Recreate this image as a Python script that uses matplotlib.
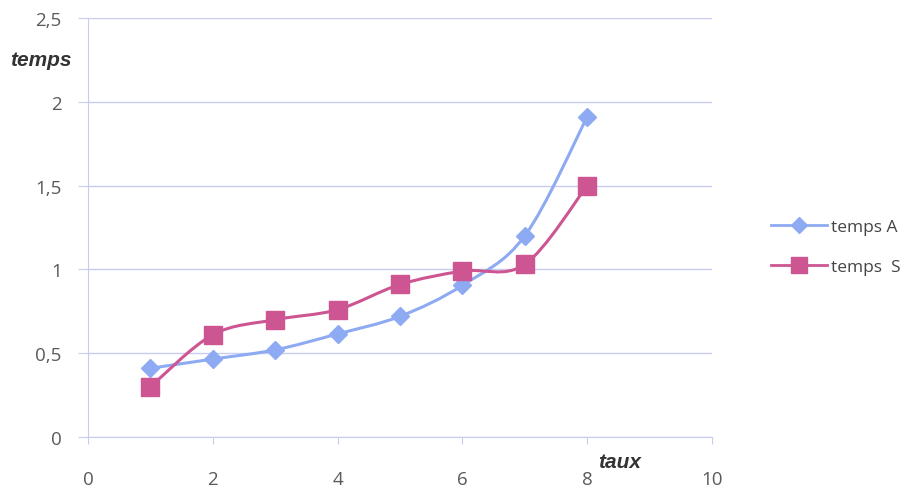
import numpy as np
import matplotlib
matplotlib.use("Agg")
import matplotlib.pyplot as plt
from matplotlib.path import Path
from matplotlib.patches import PathPatch
from matplotlib.lines import Line2D

taux = [1, 2, 3, 4, 5, 6, 7, 8]
temps_A = [0.41, 0.465, 0.52, 0.615, 0.72, 0.905, 1.2, 1.91]
temps_S = [0.30, 0.61, 0.70, 0.76, 0.91, 0.99, 1.03, 1.50]
x_ticks = [0, 2, 4, 6, 8, 10]
y_ticks = [0, 0.5, 1, 1.5, 2, 2.5]
y_ticklabels = ["0", "0,5", "1", "1,5", "2", "2,5"]

blue = "#8daaf2"
pink = "#cc5592"
grid_c = "#c8cdf0"
txt_c = "#5a5a5a"

plt.rcParams['font.family'] = ['Open Sans', 'DejaVu Sans']

fig = plt.figure(figsize=(9.13, 4.89), dpi=100)
ax = fig.add_axes([88/913, 51/489, 624/913, 419/489])
ax.set_xlim(0, 10)
ax.set_ylim(0, 2.5)


def smooth_path(x, y, t=1/6):
    x = np.asarray(x, float); y = np.asarray(y, float)
    pts = np.column_stack([x, y])
    verts = [pts[0]]
    codes = [Path.MOVETO]
    n = len(pts)
    for i in range(n - 1):
        p0 = pts[i - 1] if i > 0 else pts[i]
        p1 = pts[i]
        p2 = pts[i + 1]
        p3 = pts[i + 2] if i + 2 < n else pts[i + 1]
        c1 = p1 + (p2 - p0) * t
        c2 = p2 - (p3 - p1) * t
        verts += [c1, c2, p2]
        codes += [Path.CURVE4] * 3
    return Path(verts, codes)


for ys, c, m, ms in [(temps_A, blue, "D", 9), (temps_S, pink, "s", 13)]:
    patch = PathPatch(smooth_path(taux, ys), facecolor="none", edgecolor=c, lw=2.2, zorder=3)
    ax.add_patch(patch)
    ax.plot(taux, ys, linestyle="none", marker=m, markersize=ms, color=c, zorder=4)

ax.set_yticks(y_ticks)
ax.set_yticklabels(y_ticklabels)
ax.set_xticks(x_ticks)
ax.grid(axis="y", color=grid_c, lw=1)
ax.set_axisbelow(True)
for s in ["top", "right"]:
    ax.spines[s].set_visible(False)
ax.spines["left"].set_color(grid_c)
ax.spines["bottom"].set_color(grid_c)
ax.tick_params(axis="y", length=7, color=grid_c, labelcolor=txt_c, labelsize=13.5, pad=12)
ax.tick_params(axis="x", length=5, color=grid_c, labelcolor=txt_c, labelsize=13.5, pad=19)

fig.text(10/913, 1 - 60/489, "temps", style="italic", weight="bold", fontsize=15,
         color="#333333", va="center", ha="left", family="Liberation Sans")
fig.text(598/913, 1 - 463/489, "taux", style="italic", weight="bold", fontsize=15,
         color="#333333", va="center", ha="left", family="Liberation Sans")

handles = [Line2D([], [], color=blue, marker="D", markersize=8, lw=2),
           Line2D([], [], color=pink, marker="s", markersize=11, lw=2)]
leg = fig.legend(handles, ["temps A", "temps  S"], loc="center left",
                 bbox_to_anchor=(771/913, 1 - 248/489), frameon=False,
                 borderpad=0, borderaxespad=0,
                 fontsize=12.5, labelspacing=1.4, handlelength=3.2, handletextpad=0.25)
for t in leg.get_texts():
    t.set_color("#444444")

fig.savefig("out.png", dpi=100)
